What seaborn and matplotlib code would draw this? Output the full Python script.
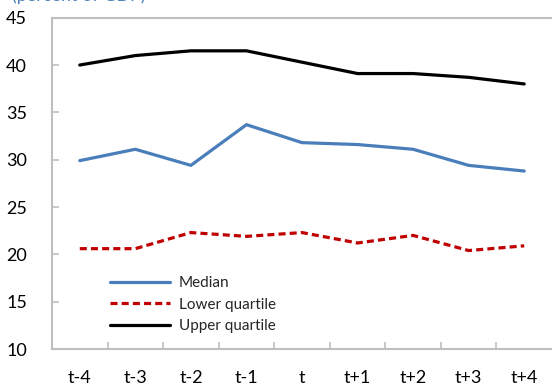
import pandas as pd
import seaborn as sns
import matplotlib.pyplot as plt
from matplotlib.ticker import FixedLocator

# Datos
periodos = ['t-4', 't-3', 't-2', 't-1', 't', 't+1', 't+2', 't+3', 't+4']
mediana = [29.9, 31.1, 29.4, 33.7, 31.8, 31.6, 31.1, 29.4, 28.8]
cuartil_inf = [20.6, 20.6, 22.3, 21.9, 22.3, 21.2, 22.0, 20.4, 20.9]
cuartil_sup = [40.0, 41.0, 41.5, 41.5, 40.3, 39.1, 39.1, 38.7, 38.0]
series = ['Median', 'Lower quartile', 'Upper quartile']
y_ticks = [10, 15, 20, 25, 30, 35, 40, 45]

df = pd.DataFrame({
    'periodo': periodos * 3,
    'valor': mediana + cuartil_inf + cuartil_sup,
    'serie': [s for s in series for _ in periodos],
})

sns.set_style('white')
plt.rcParams['font.family'] = ['Lato', 'DejaVu Sans']

colores = {'Median': '#4A7EBB', 'Lower quartile': '#C00000', 'Upper quartile': '#000000'}
guiones = {'Median': '', 'Lower quartile': (2.2, 1.3), 'Upper quartile': ''}

fig = plt.figure(figsize=(5.52, 3.87), dpi=100)
ax = fig.add_axes([52 / 552, 1 - 349 / 387, 1 - 52 / 552, (349 - 17.7) / 387])

sns.lineplot(data=df, x='periodo', y='valor', hue='serie', style='serie',
             palette=colores, dashes=guiones, hue_order=series, style_order=series,
             linewidth=2.3, ax=ax, sort=False)

ax.set_xlim(-0.5, 8.5)
ax.set_ylim(10, 45)
ax.set_yticks(y_ticks)
ax.set_xlabel('')
ax.set_ylabel('')

# Marcas del eje x entre categorías (estilo Excel)
ax.xaxis.set_minor_locator(FixedLocator([i + 0.5 for i in range(len(periodos) - 1)]))
ax.tick_params(axis='x', which='major', length=0, pad=15, labelsize=13, colors='#000000')
ax.tick_params(axis='x', which='minor', direction='in', length=5, width=1.2,
               color='#BFBFBF', bottom=True)
ax.tick_params(axis='y', direction='in', length=5, width=1.2, color='#BFBFBF',
               pad=18, labelsize=13, labelcolor='#000000', left=True)

for lado in ['left', 'bottom', 'top']:
    ax.spines[lado].set_color('#BFBFBF')
    ax.spines[lado].set_linewidth(1.5)
ax.spines['right'].set_visible(False)

ax.legend(loc='upper left', bbox_to_anchor=(110 / 552, 1 - 276 / 387),
          bbox_transform=fig.transFigure, frameon=False, fontsize=11,
          handlelength=3.9, handletextpad=0.6, labelspacing=0.5,
          borderpad=0, borderaxespad=0)

fig.text(12 / 552, 1 - 0.5 / 387, '(percent of GDP)', color='#4F81BD',
         fontsize=13, va='baseline', ha='left')

plt.savefig('out.png', dpi=100)
plt.close()
